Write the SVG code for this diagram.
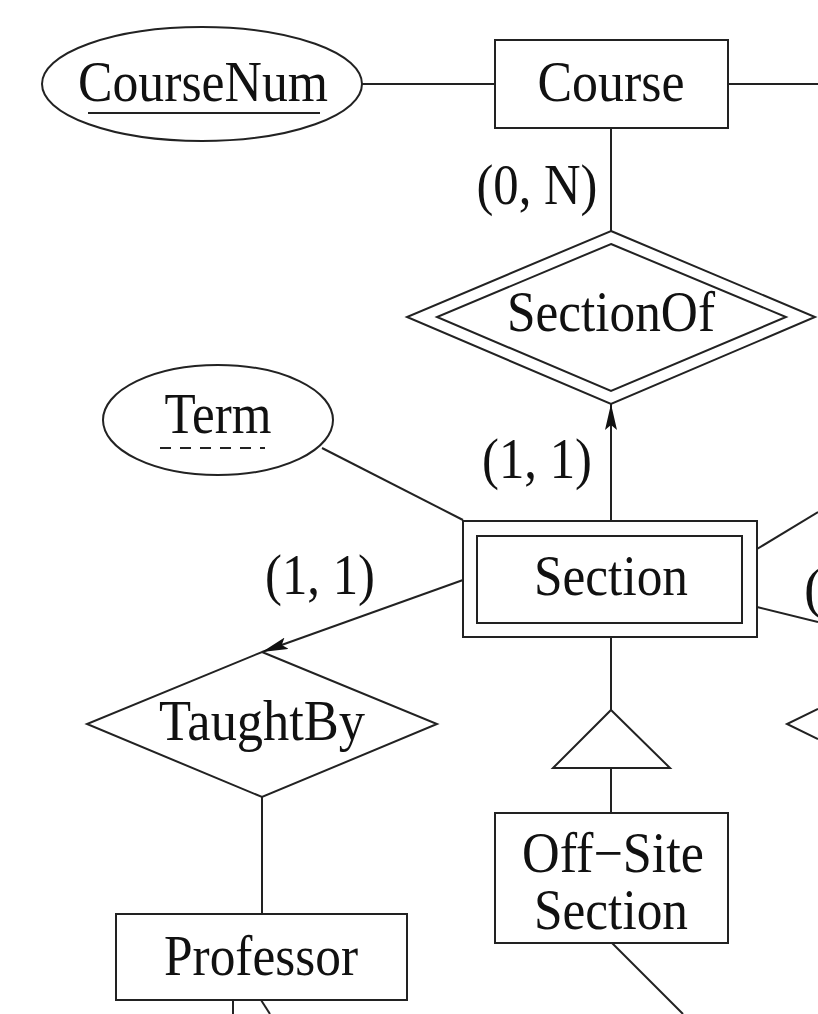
<svg xmlns="http://www.w3.org/2000/svg" width="818" height="1014" viewBox="0 0 818 1014">
<style>
.s{fill:#fff;stroke:#222;stroke-width:2}
.l{fill:none;stroke:#222;stroke-width:2}
.t{font-family:"Liberation Serif","Times New Roman",serif;font-size:56px;fill:#111;text-anchor:middle}
</style>
<defs>
<marker id="ah" viewBox="0 0 26 12" refX="26" refY="6" markerWidth="26" markerHeight="12" markerUnits="userSpaceOnUse" orient="auto">
<path d="M0,0 L26,6 L0,12 L5,6 Z" fill="#111"/>
</marker>
</defs>
<rect width="818" height="1014" fill="#fff"/>
<g id="connectors">
<line class="l" x1="362" y1="84" x2="495" y2="84"/>
<line class="l" x1="728" y1="84" x2="818" y2="84"/>
<line class="l" x1="611" y1="128" x2="611" y2="231"/>
<line class="l" x1="611" y1="521" x2="611" y2="404" marker-end="url(#ah)"/>
<line class="l" x1="322" y1="448" x2="463" y2="520"/>
<line class="l" x1="463" y1="580" x2="262" y2="652" marker-end="url(#ah)"/>
<line class="l" x1="262" y1="797" x2="262" y2="914"/>
<line class="l" x1="757" y1="549" x2="818" y2="512"/>
<line class="l" x1="757" y1="607" x2="818" y2="622"/>
<line class="l" x1="611" y1="637" x2="611" y2="710"/>
<line class="l" x1="611" y1="768" x2="611" y2="812"/>
<line class="l" x1="612" y1="943" x2="683" y2="1014"/>
<line class="l" x1="233" y1="1000" x2="233" y2="1014"/>
<line class="l" x1="261" y1="1000" x2="270" y2="1014"/>
<polyline class="l" points="818,709 787,724 818,739"/>
</g>
<g id="CourseNum">
<ellipse class="s" cx="202" cy="84" rx="160" ry="57"/>
<text class="t" x="203" y="101" textLength="250" lengthAdjust="spacingAndGlyphs">CourseNum</text>
<line class="l" x1="88" y1="113" x2="320" y2="113"/>
</g>
<g id="Course">
<rect class="s" x="495" y="40" width="233" height="88"/>
<text class="t" x="611" y="101" textLength="147" lengthAdjust="spacingAndGlyphs">Course</text>
</g>
<g id="SectionOf">
<polygon class="s" points="611,231 815,317 611,404 407,317"/>
<polygon class="l" points="611,244 786,317 611,391 437,317"/>
<text class="t" x="611" y="331" textLength="208" lengthAdjust="spacingAndGlyphs">SectionOf</text>
</g>
<g id="Term">
<ellipse class="s" cx="218" cy="420" rx="115" ry="55"/>
<text class="t" x="218" y="433" textLength="107" lengthAdjust="spacingAndGlyphs">Term</text>
<line class="l" x1="160" y1="448" x2="265" y2="448" stroke-dasharray="11 9"/>
</g>
<g id="Section">
<rect class="s" x="463" y="521" width="294" height="116"/>
<rect class="l" x="477" y="536" width="265" height="87"/>
<text class="t" x="611" y="595" textLength="154" lengthAdjust="spacingAndGlyphs">Section</text>
</g>
<g id="TaughtBy">
<polygon class="s" points="262,652 437,724 262,797 87,724"/>
<text class="t" x="262" y="740" textLength="206" lengthAdjust="spacingAndGlyphs">TaughtBy</text>
</g>
<g id="ISA">
<polygon class="s" points="611,710 670,768 553,768"/>
</g>
<g id="OffSiteSection">
<rect class="s" x="495" y="813" width="233" height="130"/>
<text class="t" x="613" y="872" textLength="182" lengthAdjust="spacingAndGlyphs">Off−Site</text>
<text class="t" x="611" y="929" textLength="154" lengthAdjust="spacingAndGlyphs">Section</text>
</g>
<g id="Professor">
<rect class="s" x="116" y="914" width="291" height="86"/>
<text class="t" x="261" y="975" textLength="194" lengthAdjust="spacingAndGlyphs">Professor</text>
</g>
<g id="labels">
<text class="t" x="537" y="204" textLength="121" lengthAdjust="spacingAndGlyphs">(0, N)</text>
<text class="t" x="537" y="478" textLength="110" lengthAdjust="spacingAndGlyphs">(1, 1)</text>
<text class="t" x="320" y="594" textLength="110" lengthAdjust="spacingAndGlyphs">(1, 1)</text>
<text class="t" x="804" y="607" style="text-anchor:start">(</text>
</g>
</svg>
